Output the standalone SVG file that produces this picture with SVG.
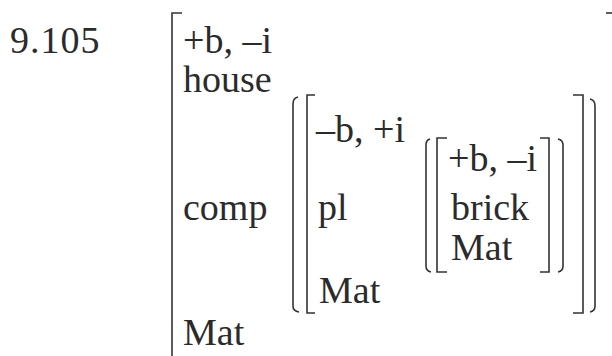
<svg xmlns="http://www.w3.org/2000/svg" width="612" height="356" viewBox="0 0 612 356">
<style>
text{font-family:"Liberation Serif","Times New Roman",serif;font-size:38px;fill:#2b2b2b}
.b{fill:none;stroke:#333;stroke-width:1.6}
</style>
<rect width="612" height="356" fill="#fff"/>
<g id="label"><text x="10" y="53" letter-spacing="1">9.105</text></g>
<g id="outer">
<path class="b" d="M182,13 H172 V360"/>
<path class="b" d="M606,13 H614"/>
<text x="183" y="53">+b, –i</text>
<text x="183" y="92">house</text>
<text x="183" y="220">comp</text>
<text x="183" y="345">Mat</text>
</g>
<g id="middle">
<path class="b" d="M298,97 Q293,98 293,104 V306 Q293,311 299,312"/>
<path class="b" d="M315,95 H307 V313 H315"/>
<path class="b" d="M573,95 H583 V313 H573"/>
<path class="b" d="M590,99 Q595,100 595,106 V306 Q595,311 590,312"/>
<text x="316" y="142">–b, +i</text>
<text x="318" y="220">pl</text>
<text x="319" y="303">Mat</text>
</g>
<g id="inner">
<path class="b" d="M430,139 Q426,140 426,145 V266 Q426,271 431,272"/>
<path class="b" d="M447,138 H437 V272 H447"/>
<path class="b" d="M540,138 H549 V272 H540"/>
<path class="b" d="M558,139 Q563,140 563,145 V266 Q563,271 558,272"/>
<text x="448" y="171">+b, –i</text>
<text x="451" y="220">brick</text>
<text x="451" y="260">Mat</text>
</g>
<g id="connectors"></g>
</svg>
